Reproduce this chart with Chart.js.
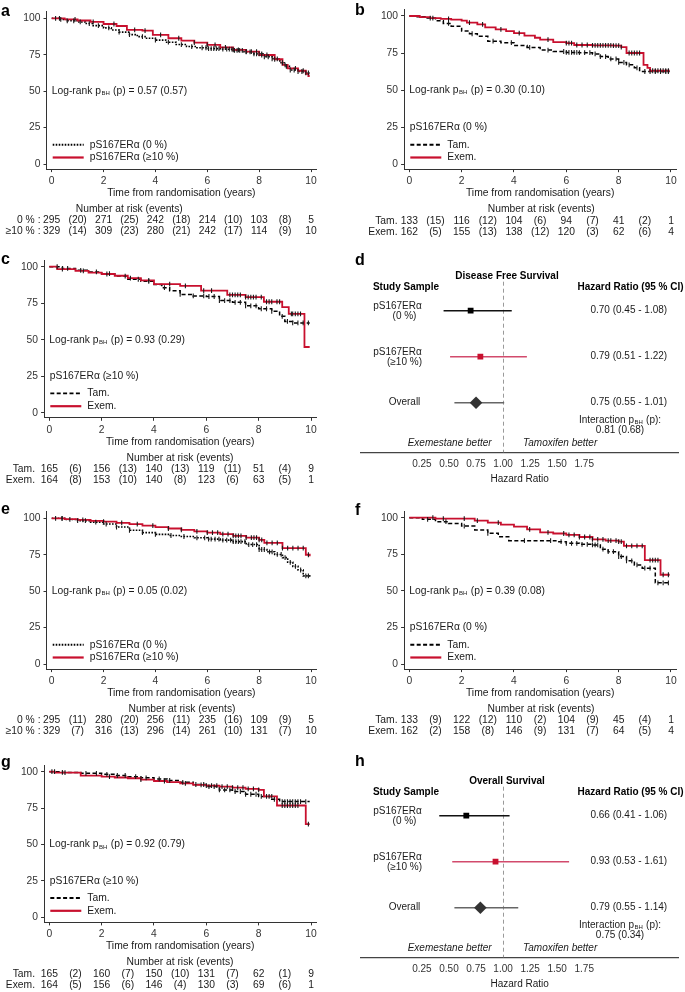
<!DOCTYPE html>
<html>
<head>
<meta charset="utf-8">
<title>pS167ERα survival</title>
<script src="https://cdn.jsdelivr.net/npm/chart.js@4.4.1/dist/chart.umd.min.js"></script>
<style>
  html, body { margin: 0; padding: 0; background: #fff; }
  #fig { position: relative; width: 685px; height: 992px; overflow: hidden; }
  #fig canvas { position: absolute; }
</style>
</head>
<body>
<div id="fig"></div>
<script>
// ---- ticks / table columns
const kmTicksX = [0, 2, 4, 6, 8, 10];
const kmTicksY = [0, 25, 50, 75, 100];
const riskTimes = [0, 2, 4, 6, 8, 10];
const eventTimes = [1, 3, 5, 7, 9];
const hrTicks = [0.25, 0.50, 0.75, 1.00, 1.25, 1.50, 1.75];

// ---- a: DFS, pS167ERα 0 % vs >=10 %
const aTimeNeg = [0, 0.3, 0.6, 1.0, 1.3, 1.6, 2.0, 2.3, 2.6, 3.0, 3.3, 3.6, 4.0, 4.4, 4.8, 5.2, 5.6, 6.0, 6.5, 7.0, 7.4, 7.8, 8.2, 8.5, 8.8, 9.0, 9.2, 9.5, 9.8, 9.95];
const aSurvNeg = [100, 99.2, 98.3, 97.5, 96.4, 95.0, 93.4, 92.0, 90.5, 88.8, 87.4, 86.3, 85.0, 83.6, 82.0, 80.6, 79.8, 79.2, 78.8, 78.0, 77.0, 75.6, 73.6, 72.2, 69.5, 67.0, 64.5, 63.5, 62.5, 62.5];
const aCensNeg = [0.15, 0.35, 0.6, 0.85, 1.1, 1.45, 1.8, 2.2, 2.6, 3.0, 3.5, 4.0, 4.5, 5.0, 5.4, 5.8, 5.95, 6.05, 6.15, 6.25, 6.35, 6.45, 6.6, 6.75, 6.85, 6.95, 7.05, 7.15, 7.25, 7.35, 7.5, 7.65, 7.8, 7.9, 8.0, 8.1, 8.2, 8.35, 8.5, 8.7, 8.9, 9.05, 9.2, 9.35, 9.5, 9.65, 9.8, 9.9];
const aTimePos = [0, 0.5, 1.0, 1.5, 2.0, 2.5, 2.9, 3.5, 3.9, 4.5, 5.0, 5.5, 6.0, 6.5, 7.0, 7.5, 8.0, 8.6, 8.9, 9.1, 9.5, 9.8, 9.9, 9.95];
const aSurvPos = [100, 99.3, 98.5, 97.5, 96.1, 94.7, 92.0, 91.5, 88.6, 86.3, 84.7, 83.3, 81.7, 80.0, 78.3, 77.1, 74.8, 71.9, 68.0, 65.7, 64.0, 61.8, 60.4, 60.4];
const aCensPos = [0.3, 0.9, 1.6, 2.4, 3.2, 3.6, 4.2, 4.9, 5.5, 6.0, 6.3, 6.7, 7.0, 7.2, 7.5, 7.7, 7.9, 8.1, 8.3, 8.6, 9.0, 9.4, 9.7];
const aRiskNeg = [295, 271, 242, 214, 103, 5];
const aEventsNeg = [20, 25, 18, 10, 8];
const aRiskPos = [329, 309, 280, 242, 114, 10];
const aEventsPos = [14, 23, 21, 17, 9];

// ---- b: DFS, pS167ERα 0 %, Tam vs Exem
const bTimeTam = [0, 0.3, 0.6, 1.0, 1.3, 1.6, 2.0, 2.3, 2.6, 3.0, 3.5, 4.0, 4.5, 5.0, 5.5, 6.0, 6.5, 7.0, 7.3, 7.6, 8.0, 8.3, 8.6, 8.8, 9.95];
const bSurvTam = [100, 99.5, 98.6, 96.8, 95.0, 93.0, 89.8, 88.0, 86.4, 83.0, 82.0, 80.0, 78.8, 77.0, 76.0, 75.4, 75.2, 74.4, 72.6, 71.0, 68.6, 67.0, 65.0, 62.5, 62.5];
const bCensTam = [0.8, 1.5, 2.4, 3.2, 3.9, 4.6, 5.3, 5.9, 6.0, 6.1, 6.2, 6.3, 6.4, 6.5, 6.7, 6.9, 7.1, 7.3, 7.5, 7.7, 7.9, 8.0, 8.2, 8.4, 8.7, 9.0, 9.2, 9.4, 9.6, 9.8, 9.9];
const bTimeExem = [0, 0.4, 0.8, 1.2, 1.6, 2.0, 2.2, 2.6, 2.9, 3.3, 3.7, 4.0, 4.4, 4.8, 5.0, 5.5, 6.0, 6.3, 7.0, 7.8, 8.1, 8.3, 8.95, 9.1, 9.2, 9.95];
const bSurvExem = [100, 99.3, 98.6, 98.0, 97.5, 96.9, 95.5, 94.3, 92.3, 91.0, 89.8, 88.4, 86.8, 85.3, 84.0, 82.4, 81.7, 80.4, 80.2, 80.0, 79.0, 75.0, 67.0, 65.0, 63.0, 63.0];
const bCensExem = [0.9, 1.5, 2.3, 2.8, 3.5, 4.2, 5.3, 6.0, 6.1, 6.2, 6.4, 6.6, 6.8, 7.0, 7.1, 7.2, 7.3, 7.4, 7.5, 7.6, 7.7, 7.8, 7.9, 8.0, 8.1, 8.4, 8.5, 8.6, 8.7, 8.8, 9.3, 9.4, 9.5, 9.6, 9.7, 9.8, 9.9];
const bRiskTam = [133, 116, 104, 94, 41, 1];
const bEventsTam = [15, 12, 6, 7, 2];
const bRiskExem = [162, 155, 138, 120, 62, 4];
const bEventsExem = [5, 13, 12, 3, 6];

// ---- c: DFS, pS167ERα >=10 %, Tam vs Exem
const cTimeTam = [0, 0.5, 1.0, 1.5, 2.0, 2.5, 3.0, 3.5, 4.0, 4.3, 4.6, 5.0, 5.5, 6.0, 6.5, 7.0, 7.5, 8.0, 8.5, 8.8, 9.0, 9.3, 9.95];
const cSurvTam = [100, 98.8, 97.5, 96.4, 95.2, 93.6, 91.4, 90.0, 87.8, 85.6, 83.6, 81.0, 80.0, 79.6, 76.8, 75.6, 73.2, 71.2, 69.5, 66.0, 62.5, 61.5, 61.5];
const cCensTam = [0.3, 0.7, 1.2, 1.8, 2.3, 2.9, 3.4, 3.8, 4.4, 5.0, 5.5, 5.9, 6.1, 6.3, 6.5, 6.7, 6.9, 7.1, 7.3, 7.5, 7.7, 7.9, 8.1, 8.3, 8.5, 8.9, 9.1, 9.3, 9.5, 9.7, 9.9];
const cTimeExem = [0, 0.3, 1.0, 1.5, 2.0, 2.5, 3.0, 3.5, 4.0, 5.0, 5.8, 6.8, 7.5, 8.2, 8.9, 9.15, 9.75, 9.95];
const cSurvExem = [100, 98.4, 97.2, 96.0, 95.0, 93.8, 92.2, 90.6, 88.0, 86.8, 83.6, 80.7, 79.2, 76.0, 72.3, 67.7, 45.0, 45.0];
const cCensExem = [0.5, 1.3, 2.2, 3.1, 3.8, 4.6, 5.2, 5.9, 6.2, 6.9, 7.0, 7.1, 7.2, 7.3, 7.5, 7.6, 7.7, 7.8, 7.9, 8.1, 8.3, 8.4, 8.5, 8.7, 8.8, 9.25, 9.3, 9.4, 9.5, 9.6];
const cRiskTam = [165, 156, 140, 119, 51, 9];
const cEventsTam = [6, 13, 13, 11, 4];
const cRiskExem = [164, 153, 140, 123, 63, 1];
const cEventsExem = [8, 10, 8, 6, 5];

// ---- e: OS, pS167ERα 0 % vs >=10 %
const eTimeNeg = [0, 0.5, 1.0, 1.5, 2.0, 2.5, 3.0, 3.5, 4.0, 4.5, 5.0, 5.5, 6.0, 6.5, 7.0, 7.5, 8.0, 8.3, 8.6, 8.9, 9.1, 9.3, 9.5, 9.7, 9.95];
const eSurvNeg = [100, 99.2, 98.4, 97.4, 96.1, 94.0, 91.8, 90.2, 89.0, 88.2, 87.5, 86.6, 85.7, 85.0, 84.0, 82.0, 78.6, 77.0, 75.2, 73.0, 69.8, 67.0, 64.5, 60.5, 59.8];
const eCensNeg = [0.15, 0.4, 0.7, 1.0, 1.3, 1.7, 2.1, 2.5, 3.0, 3.5, 4.0, 4.6, 5.1, 5.6, 5.9, 6.05, 6.15, 6.3, 6.45, 6.6, 6.75, 6.9, 7.0, 7.1, 7.2, 7.3, 7.45, 7.6, 7.75, 7.9, 8.0, 8.1, 8.2, 8.4, 8.5, 8.7, 8.85, 9.0, 9.2, 9.4, 9.6, 9.8, 9.9];
const eTimePos = [0, 0.5, 1.0, 1.5, 2.0, 2.5, 3.0, 3.5, 4.0, 4.5, 5.0, 5.5, 6.0, 6.5, 7.0, 7.5, 8.0, 8.2, 8.9, 9.8, 9.95];
const eSurvPos = [100, 99.4, 98.9, 98.3, 97.7, 96.9, 96.0, 95.0, 93.9, 93.0, 92.0, 91.0, 90.2, 89.2, 88.0, 86.8, 85.2, 83.2, 79.5, 75.0, 74.0];
const eCensPos = [0.4, 1.2, 2.0, 2.7, 3.3, 3.9, 4.5, 5.0, 5.6, 6.0, 6.2, 6.4, 6.6, 6.8, 7.0, 7.1, 7.2, 7.3, 7.5, 7.7, 7.8, 7.9, 8.0, 8.1, 8.3, 8.5, 8.7, 8.9, 9.1, 9.3, 9.5, 9.7, 9.9];
const eRiskNeg = [295, 280, 256, 235, 109, 5];
const eEventsNeg = [11, 20, 11, 16, 9];
const eRiskPos = [329, 316, 296, 261, 131, 10];
const eEventsPos = [7, 13, 14, 10, 7];

// ---- f: OS, pS167ERα 0 %, Tam vs Exem
const fTimeTam = [0, 0.5, 1.0, 1.5, 2.0, 2.5, 3.0, 3.4, 3.8, 5.6, 6.0, 6.5, 7.0, 7.3, 7.6, 8.0, 8.3, 8.6, 8.9, 9.4, 9.95];
const fSurvTam = [100, 98.9, 97.3, 96.0, 94.3, 91.6, 89.3, 87.0, 84.3, 83.6, 82.5, 81.8, 81.4, 78.5, 76.8, 73.4, 70.5, 67.7, 65.5, 55.5, 55.5];
const fCensTam = [0.7, 1.4, 2.1, 3.0, 4.4, 5.4, 5.8, 6.0, 6.2, 6.4, 6.6, 6.8, 7.0, 7.1, 7.2, 7.4, 7.6, 7.8, 8.0, 8.1, 8.3, 8.5, 8.7, 9.0, 9.2, 9.5, 9.7, 9.9];
const fTimeExem = [0, 1.0, 2.5, 3.0, 3.5, 4.0, 4.5, 5.0, 5.5, 6.0, 6.5, 7.0, 7.5, 8.0, 8.2, 9.0, 9.6, 9.95];
const fSurvExem = [100, 99.4, 98.0, 96.6, 95.2, 93.9, 92.0, 90.0, 89.2, 88.2, 86.8, 85.2, 84.3, 83.6, 80.7, 71.0, 61.0, 61.0];
const fCensExem = [0.9, 1.3, 2.1, 2.6, 3.4, 4.6, 5.3, 5.9, 6.1, 6.3, 6.5, 6.7, 6.9, 7.0, 7.2, 7.4, 7.6, 7.7, 7.9, 8.0, 8.1, 8.3, 8.5, 8.7, 8.9, 9.2, 9.3, 9.4, 9.5, 9.7, 9.9];
const fRiskTam = [133, 122, 110, 104, 45, 1];
const fEventsTam = [9, 12, 2, 9, 4];
const fRiskExem = [162, 158, 146, 131, 64, 4];
const fEventsExem = [2, 8, 9, 7, 5];

// ---- g: OS, pS167ERα >=10 %, Tam vs Exem
const gTimeTam = [0, 0.5, 1.2, 2.0, 2.5, 3.0, 3.5, 4.0, 4.5, 5.0, 5.5, 6.0, 6.5, 7.0, 7.5, 8.0, 8.5, 8.8, 9.95];
const gSurvTam = [100, 99.5, 98.9, 98.2, 97.4, 96.6, 95.8, 95.0, 94.0, 92.7, 91.2, 89.8, 87.5, 86.4, 84.5, 83.0, 81.0, 79.5, 79.5];
const gCensTam = [0.2, 0.5, 1.4, 1.8, 2.2, 2.6, 2.9, 3.3, 3.7, 4.2, 4.6, 5.1, 5.6, 5.9, 6.1, 6.3, 6.5, 6.7, 6.9, 7.1, 7.3, 7.5, 7.7, 7.9, 8.1, 8.3, 8.6, 8.9, 9.0, 9.1, 9.2, 9.3, 9.4, 9.5, 9.6, 9.8];
const gTimeExem = [0, 0.2, 1.2, 2.0, 2.5, 3.0, 3.5, 4.0, 4.5, 5.0, 5.5, 6.0, 6.5, 7.0, 7.5, 8.0, 8.2, 8.7, 9.8, 9.95];
const gSurvExem = [100, 99.3, 97.3, 96.6, 96.0, 95.5, 94.6, 93.6, 92.8, 92.0, 91.0, 90.5, 89.8, 89.0, 88.2, 87.5, 83.0, 76.8, 64.0, 64.0];
const gCensExem = [0.1, 0.6, 2.3, 3.5, 4.4, 5.2, 5.8, 6.0, 6.2, 6.4, 6.6, 6.8, 7.0, 7.2, 7.4, 7.6, 7.8, 8.0, 8.4, 8.5, 8.9, 9.0, 9.1, 9.2, 9.3, 9.4, 9.5, 9.9];
const gRiskTam = [165, 160, 150, 131, 62, 9];
const gEventsTam = [2, 7, 10, 7, 1];
const gRiskExem = [164, 156, 146, 130, 69, 1];
const gEventsExem = [5, 6, 4, 3, 6];

// ---- d / h: hazard ratios (rows: 0 %, >=10 %, overall)
const forestLabels = [['pS167ERα', '(0 %)'], ['pS167ERα', '(≥10 %)'], ['Overall']];
const dfsEst = [0.70, 0.79, 0.75];
const dfsLow = [0.45, 0.51, 0.55];
const dfsHigh = [1.08, 1.22, 1.01];
const osEst = [0.66, 0.93, 0.79];
const osLow = [0.41, 0.53, 0.55];
const osHigh = [1.06, 1.61, 1.14];

const RED = '#c8102e';
const FONT = "'Liberation Sans', Arial, Helvetica, sans-serif";
const TXT = '10.3px ' + FONT;
Chart.defaults.font.family = FONT;
Chart.defaults.font.size = 10;
Chart.defaults.color = '#333';

const styleNeg = { color: '#000', dash: [1.6, 1.4], width: 1.6 };
const styleTam = { color: '#000', dash: [4, 2.4], width: 1.5 };
const styleRed = { color: RED, dash: [], width: 1.8 };

function survAt(times, surv, t) {
  let s = surv[0];
  for (let i = 0; i < times.length; i++) if (times[i] <= t) s = surv[i];
  return s;
}

function makeCanvas(box) {
  const c = document.createElement('canvas');
  c.width = box[2]; c.height = box[3];
  c.style.left = box[0] + 'px'; c.style.top = box[1] + 'px';
  c.style.width = box[2] + 'px'; c.style.height = box[3] + 'px';
  document.getElementById('fig').appendChild(c);
  return c;
}

// text with a small "BH" subscript in the middle
function subText(ctx, x, y, font, pre, sub, post, align) {
  ctx.font = font;
  const w1 = ctx.measureText(pre).width, w3 = ctx.measureText(post).width;
  ctx.font = '6px ' + FONT;
  const w2 = ctx.measureText(sub).width + 1;
  let x0 = x;
  if (align === 'center') x0 = x - (w1 + w2 + w3) / 2;
  ctx.textAlign = 'left';
  ctx.textBaseline = 'middle';
  ctx.font = font; ctx.fillText(pre, x0, y);
  ctx.font = '6px ' + FONT; ctx.fillText(sub, x0 + w1 + 0.5, y + 2.5);
  ctx.font = font; ctx.fillText(post, x0 + w1 + w2, y);
}

function kmChart(p) {
  const box = p.box, g = p.geo;
  const xmin = -0.2, xmax = 10.2, ymin = -3.5, ymax = 104.5;
  const pxX = (g.x10 - g.x0) / 10, pxY = (g.y0 - g.y100) / 100;
  const left = g.x0 + xmin * pxX, right = g.x0 + xmax * pxX;
  const top = g.y100 - (ymax - 100) * pxY, bottom = g.y0 - ymin * pxY;
  const xAxisH = 30;

  const datasets = [];
  p.curves.forEach((cv, i) => {
    datasets.push({
      data: cv.t.map((t, k) => ({ x: t, y: cv.s[k] })),
      stepped: true, borderColor: cv.style.color, borderWidth: cv.style.width,
      borderDash: cv.style.dash, pointRadius: 0, fill: false, order: 3 - i
    });
    datasets.push({
      type: 'scatter',
      data: cv.c.map(t => ({ x: t, y: survAt(cv.t, cv.s, t) })),
      pointStyle: 'line', rotation: 90, radius: 2.4, borderColor: '#1a1a1a',
      borderWidth: 1.1, showLine: false, order: 0
    });
  });

  new Chart(makeCanvas(box), {
    type: 'line',
    data: { datasets },
    options: {
      animation: false, responsive: false, devicePixelRatio: 1,
      layout: { padding: { left: 0, top: top - box[1], right: box[0] + box[2] - right, bottom: box[1] + box[3] - bottom - xAxisH } },
      plugins: { legend: { display: false }, tooltip: { enabled: false } },
      scales: {
        x: {
          type: 'linear', min: xmin, max: xmax,
          afterBuildTicks: s => { s.ticks = kmTicksX.map(v => ({ value: v })); },
          afterFit: s => { s.height = xAxisH; },
          grid: { drawOnChartArea: false, tickLength: 3, color: '#333' },
          border: { color: '#333', width: 1 },
          ticks: { padding: 3, color: '#333', font: { size: 10.3 } }
        },
        y: {
          type: 'linear', min: ymin, max: ymax,
          afterBuildTicks: s => { s.ticks = kmTicksY.map(v => ({ value: v })); },
          afterFit: s => { s.width = left - box[0]; },
          grid: { drawOnChartArea: false, tickLength: 3, color: '#333' },
          border: { color: '#333', width: 1 },
          ticks: { padding: 3, color: '#333', font: { size: 10.3 } }
        }
      }
    },
    plugins: [{
      id: 'kmDeco',
      afterDraw(chart) {
        const ctx = chart.ctx, ca = chart.chartArea;
        const X = v => chart.scales.x.getPixelForValue(v);
        const Y = v => chart.scales.y.getPixelForValue(v);
        ctx.save();
        ctx.fillStyle = '#000';
        ctx.font = 'bold 16px ' + FONT; ctx.textAlign = 'left'; ctx.textBaseline = 'alphabetic';
        ctx.fillText(p.letter, p.letterPos[0], p.letterPos[1]);

        ctx.fillStyle = '#1a1a1a';
        ctx.font = TXT; ctx.textAlign = 'center'; ctx.textBaseline = 'middle';
        ctx.fillText('Time from randomisation (years)', X(5), ca.bottom + 24);

        subText(ctx, X(0), Y(50), TXT, 'Log-rank p', 'BH', ' (p) = ' + p.logrank, 'left');

        // legend
        ctx.font = TXT; ctx.textAlign = 'left'; ctx.textBaseline = 'middle';
        if (p.legendTitle) ctx.fillText(p.legendTitle, X(0) + 0.5, Y(0) - 36.5);
        p.curves.forEach((cv, i) => {
          const y = Y(0) - (i === 0 ? 19.3 : 6.5);
          ctx.save();
          ctx.strokeStyle = cv.style.color; ctx.lineWidth = cv.style.width + 0.4;
          ctx.setLineDash(cv.style.dash);
          ctx.beginPath(); ctx.moveTo(X(0) + 1, y); ctx.lineTo(X(0) + 32, y); ctx.stroke();
          ctx.restore();
          ctx.fillText(cv.label, X(0) + 38, y);
        });

        // number at risk table
        ctx.textAlign = 'center';
        ctx.fillText('Number at risk (events)', p.narX - box[0], ca.bottom + 40);
        p.curves.forEach((cv, i) => {
          const y = ca.bottom + 51.5 + i * 11;
          ctx.textAlign = 'right';
          ctx.fillText(cv.rowLabel, p.labelX - box[0], y);
          ctx.textAlign = 'center';
          cv.risk.forEach((n, k) => ctx.fillText(String(n), X(riskTimes[k]), y));
          cv.events.forEach((n, k) => ctx.fillText('(' + n + ')', X(eventTimes[k]), y));
        });
        ctx.restore();
      }
    }]
  });
}

function forestChart(p) {
  const box = p.box;
  const caTop = 30, caBottom = 202.3;
  const datasets = [];
  const lineCols = ['#111', '#d24a6c', '#666'];
  const ptCols = ['#000', RED, '#333'];
  p.est.forEach((e, i) => {
    const row = 3 - i;
    datasets.push({
      type: 'scatter', data: [{ x: e, y: row }],
      pointStyle: i === 2 ? 'rectRot' : 'rect', radius: i === 2 ? 6.3 : 4.1,
      backgroundColor: ptCols[i], borderColor: ptCols[i], borderWidth: 0, order: 0
    });
    datasets.push({
      type: 'scatter', data: [{ x: p.low[i], y: row }, { x: p.high[i], y: row }],
      showLine: true, borderColor: lineCols[i], borderWidth: 1.5, pointRadius: 0, order: 1
    });
  });

  new Chart(makeCanvas(box), {
    type: 'scatter',
    data: { datasets },
    options: {
      animation: false, responsive: false, devicePixelRatio: 1,
      layout: { padding: { left: 20.7, top: caTop, right: 1, bottom: 0 } },
      plugins: { legend: { display: false }, tooltip: { enabled: false } },
      scales: {
        x: {
          type: 'linear', min: -0.316, max: 2.623,
          afterBuildTicks: s => { s.ticks = hrTicks.map(v => ({ value: v })); },
          afterFit: s => { s.height = box[3] - caBottom; },
          grid: { display: false, drawTicks: false },
          border: { display: true, color: '#444', width: 1.2 },
          ticks: { padding: 6, color: '#333', font: { size: 10 }, callback: v => Number(v).toFixed(2) }
        },
        y: { type: 'linear', min: -0.078, max: 3.667, display: false }
      }
    },
    plugins: [{
      id: 'forestDeco',
      beforeDatasetsDraw(chart) {
        const ctx = chart.ctx, x = Math.round(chart.scales.x.getPixelForValue(1)) + 0.5;
        ctx.save();
        ctx.strokeStyle = '#9a9a9a'; ctx.lineWidth = 1; ctx.setLineDash([4, 3]);
        ctx.beginPath(); ctx.moveTo(x, 31.7); ctx.lineTo(x, chart.chartArea.bottom); ctx.stroke();
        ctx.restore();
      },
      afterDraw(chart) {
        const ctx = chart.ctx;
        const X = v => chart.scales.x.getPixelForValue(v);
        const Y = v => chart.scales.y.getPixelForValue(v);
        ctx.save();
        ctx.fillStyle = '#000';
        ctx.font = 'bold 16px ' + FONT; ctx.textAlign = 'left'; ctx.textBaseline = 'alphabetic';
        ctx.fillText(p.letter, 15, p.letterY);

        ctx.textBaseline = 'middle'; ctx.textAlign = 'center';
        ctx.font = 'bold 10px ' + FONT;
        ctx.fillText(p.title, 167, 26);
        ctx.fillText('Study Sample', 66, 37.7);
        ctx.fillText('Hazard Ratio (95 % CI)', 290.5, 37.7);

        ctx.fillStyle = '#1a1a1a';
        ctx.font = '10px ' + FONT;
        forestLabels.forEach((lab, i) => {
          const y = Y(3 - i);
          if (lab.length === 2) {
            ctx.fillText(lab[0], 57.5, y - 4.3);
            ctx.fillText(lab[1], 64.5, y + 5.3);
          } else {
            ctx.fillText(lab[0], 64.5, y);
          }
          const txt = p.est[i].toFixed(2) + ' (' + p.low[i].toFixed(2) + ' - ' + p.high[i].toFixed(2) + ')';
          ctx.fillText(txt, 288.8, y);
        });

        subText(ctx, 280, 170.2, '10px ' + FONT, 'Interaction p', 'BH', ' (p):', 'center');
        ctx.textAlign = 'center';
        ctx.font = '10px ' + FONT;
        ctx.fillText(p.interaction, 280, 180.5);

        ctx.font = 'italic 10px ' + FONT;
        ctx.textAlign = 'right';
        ctx.fillText('Exemestane better', X(1) - 11.5, 193);
        ctx.textAlign = 'left';
        ctx.fillText('Tamoxifen better', X(1) + 20, 193);

        ctx.font = '10px ' + FONT; ctx.textAlign = 'center';
        ctx.fillText('Hazard Ratio', 179.7, 229.3);
        ctx.restore();
      }
    }]
  });
}

function grp(t, s, c, style, label, rowLabel, risk, events) {
  return { t, s, c, style, label, rowLabel, risk, events };
}

kmChart({
  box: [0, 0, 340, 250], geo: { x0: 51.7, x10: 311, y0: 164, y100: 18.3 },
  letter: 'a', letterPos: [1, 16], logrank: '0.57 (0.57)', legendTitle: null,
  narX: 129.3, labelX: 40.5,
  curves: [
    grp(aTimeNeg, aSurvNeg, aCensNeg, styleNeg, 'pS167ERα (0 %)', '0 % :', aRiskNeg, aEventsNeg),
    grp(aTimePos, aSurvPos, aCensPos, styleRed, 'pS167ERα (≥10 %)', '≥10 % :', aRiskPos, aEventsPos)
  ]
});
kmChart({
  box: [340, 0, 345, 250], geo: { x0: 409.3, x10: 671, y0: 164, y100: 16 },
  letter: 'b', letterPos: [15, 15], logrank: '0.30 (0.10)', legendTitle: 'pS167ERα (0 %)',
  narX: 541.3, labelX: 397.5,
  curves: [
    grp(bTimeTam, bSurvTam, bCensTam, styleTam, 'Tam.', 'Tam.', bRiskTam, bEventsTam),
    grp(bTimeExem, bSurvExem, bCensExem, styleRed, 'Exem.', 'Exem.', bRiskExem, bEventsExem)
  ]
});
kmChart({
  box: [0, 250, 340, 250], geo: { x0: 49.3, x10: 311, y0: 412.7, y100: 266.7 },
  letter: 'c', letterPos: [1, 13.5], logrank: '0.93 (0.29)', legendTitle: 'pS167ERα (≥10 %)',
  narX: 180, labelX: 35,
  curves: [
    grp(cTimeTam, cSurvTam, cCensTam, styleTam, 'Tam.', 'Tam.', cRiskTam, cEventsTam),
    grp(cTimeExem, cSurvExem, cCensExem, styleRed, 'Exem.', 'Exem.', cRiskExem, cEventsExem)
  ]
});
kmChart({
  box: [0, 500, 340, 250], geo: { x0: 51.7, x10: 311, y0: 664, y100: 518.3 },
  letter: 'e', letterPos: [1, 13.5], logrank: '0.05 (0.02)', legendTitle: null,
  narX: 182, labelX: 40.5,
  curves: [
    grp(eTimeNeg, eSurvNeg, eCensNeg, styleNeg, 'pS167ERα (0 %)', '0 % :', eRiskNeg, eEventsNeg),
    grp(eTimePos, eSurvPos, eCensPos, styleRed, 'pS167ERα (≥10 %)', '≥10 % :', eRiskPos, eEventsPos)
  ]
});
kmChart({
  box: [340, 500, 345, 250], geo: { x0: 409.3, x10: 671, y0: 664, y100: 517.7 },
  letter: 'f', letterPos: [15, 15], logrank: '0.39 (0.08)', legendTitle: 'pS167ERα (0 %)',
  narX: 541, labelX: 397.5,
  curves: [
    grp(fTimeTam, fSurvTam, fCensTam, styleTam, 'Tam.', 'Tam.', fRiskTam, fEventsTam),
    grp(fTimeExem, fSurvExem, fCensExem, styleRed, 'Exem.', 'Exem.', fRiskExem, fEventsExem)
  ]
});
kmChart({
  box: [0, 745, 340, 247], geo: { x0: 49.3, x10: 311, y0: 917.3, y100: 771.7 },
  letter: 'g', letterPos: [1, 21.7], logrank: '0.92 (0.79)', legendTitle: 'pS167ERα (≥10 %)',
  narX: 180, labelX: 35,
  curves: [
    grp(gTimeTam, gSurvTam, gCensTam, styleTam, 'Tam.', 'Tam.', gRiskTam, gEventsTam),
    grp(gTimeExem, gSurvExem, gCensExem, styleRed, 'Exem.', 'Exem.', gRiskExem, gEventsExem)
  ]
});

forestChart({
  box: [340, 250, 345, 250], letter: 'd', letterY: 15, title: 'Disease Free Survival',
  est: dfsEst, low: dfsLow, high: dfsHigh, interaction: '0.81 (0.68)'
});
forestChart({
  box: [340, 755, 345, 237], letter: 'h', letterY: 10.7, title: 'Overall Survival',
  est: osEst, low: osLow, high: osHigh, interaction: '0.75 (0.34)'
});
</script>
</body>
</html>
